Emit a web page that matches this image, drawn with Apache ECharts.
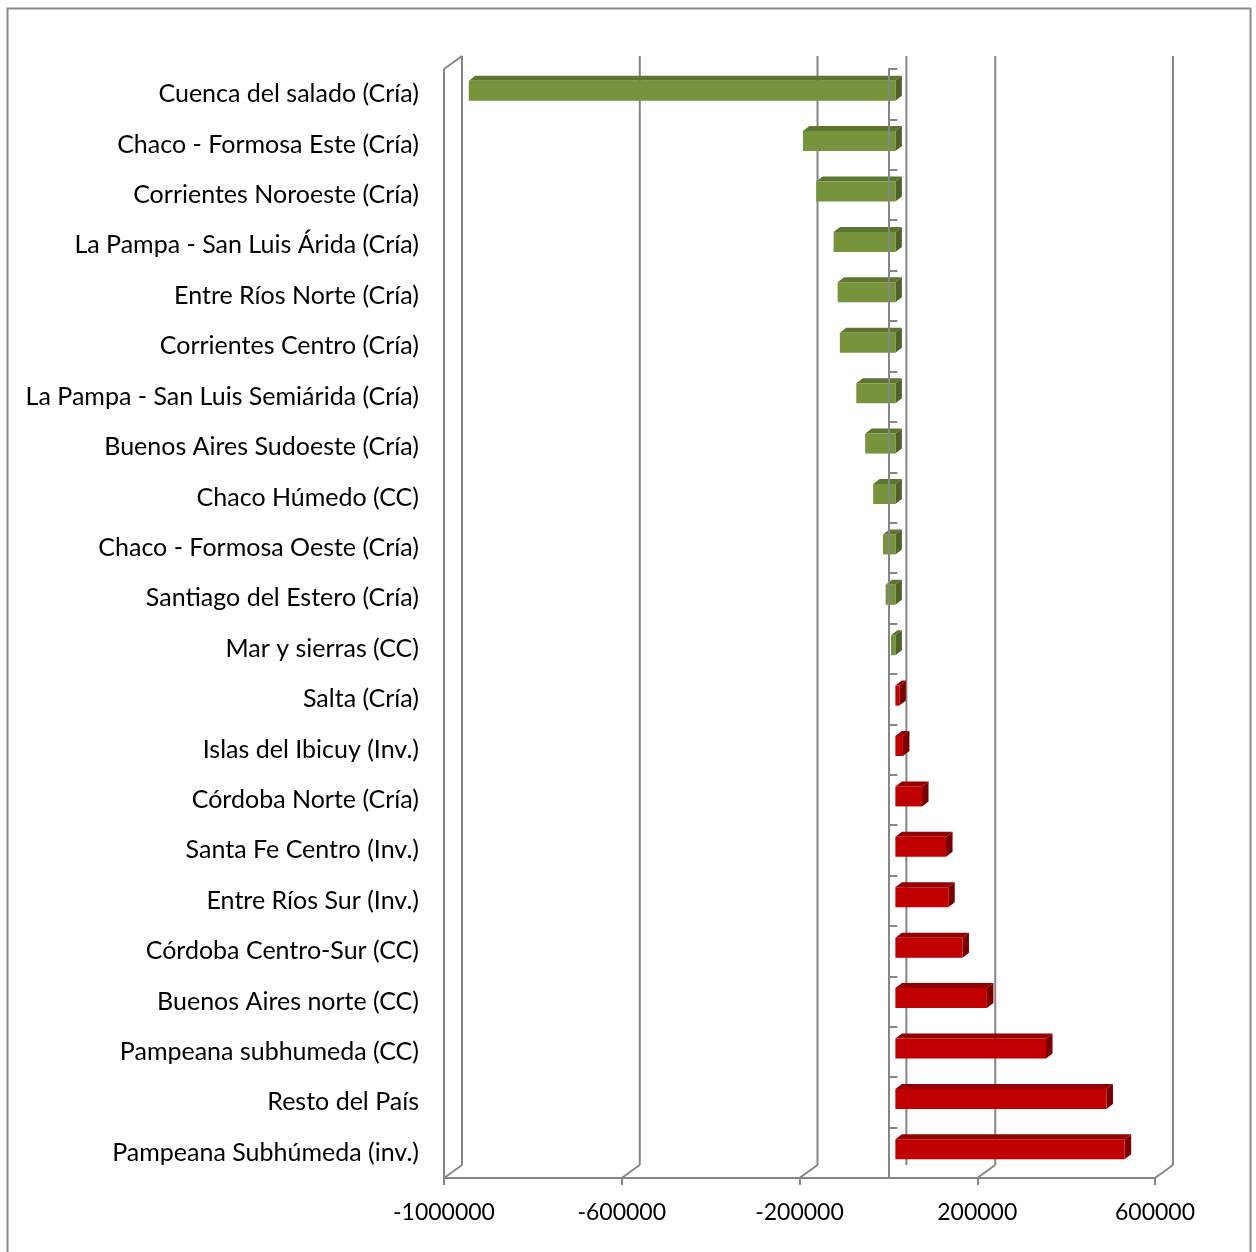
<!DOCTYPE html>
<html>
<head>
<meta charset="utf-8">
<script src="https://cdn.jsdelivr.net/npm/echarts@6/dist/echarts.min.js"></script>
<style>html,body{margin:0;padding:0;background:#fff}#c{width:1256px;height:1252px}</style>
</head>
<body>
<div id="c"></div>
<script>
const categories = [
  "Cuenca del salado (Cría)",
  "Chaco - Formosa Este (Cría)",
  "Corrientes Noroeste (Cría)",
  "La Pampa - San Luis Árida (Cría)",
  "Entre Ríos Norte (Cría)",
  "Corrientes Centro (Cría)",
  "La Pampa - San Luis Semiárida (Cría)",
  "Buenos Aires Sudoeste (Cría)",
  "Chaco Húmedo (CC)",
  "Chaco - Formosa Oeste (Cría)",
  "Santiago del Estero (Cría)",
  "Mar y sierras (CC)",
  "Salta (Cría)",
  "Islas del Ibicuy (Inv.)",
  "Córdoba Norte (Cría)",
  "Santa Fe Centro (Inv.)",
  "Entre Ríos Sur (Inv.)",
  "Córdoba Centro-Sur (CC)",
  "Buenos Aires norte (CC)",
  "Pampeana subhumeda (CC)",
  "Resto del País",
  "Pampeana Subhúmeda (inv.)"
];
const values = [
  -960000, -208000, -178000, -139000, -130000, -125000, -88000, -68000,
  -50000, -28000, -22000, -10000, 9000, 17000, 60000, 114000, 119000,
  151000, 206000, 339000, 475000, 516000
];
const xTicks = [-1000000, -600000, -200000, 200000, 600000];

const FONT = 'Lato';
const GRAY = '#868686';
const BACK_DX = 18, BACK_DY = -13;

const chart = echarts.init(document.getElementById('c'), null, {renderer: 'canvas'});

const barData = values.map((v, i) => [v, i]);

function renderBar(params, api) {
  const v = api.value(0), ci = api.value(1);
  const p0 = api.coord([0, ci]);
  const p1 = api.coord([v, ci]);
  const band = api.size([0, 1])[1];
  const h = band * 0.397;
  const dx = 7, dy = -3.5, ddx = 6.5, ddy = -5;
  const xl = Math.min(p0[0], p1[0]) + dx;
  const xr = Math.max(p0[0], p1[0]) + dx;
  const yt = p0[1] - h / 2 + dy;
  const yb = yt + h;
  const neg = v < 0;
  const front = neg ? '#77933C' : '#C00000';
  const top = neg ? '#5E7530' : '#940000';
  const side = neg ? '#4F6228' : '#7A0000';
  return {
    type: 'group',
    children: [
      {type: 'polygon', shape: {points: [[xl, yt], [xl + ddx, yt + ddy], [xr + ddx, yt + ddy], [xr, yt]]}, style: {fill: top}},
      {type: 'polygon', shape: {points: [[xr, yt], [xr + ddx, yt + ddy], [xr + ddx, yb + ddy], [xr, yb]]}, style: {fill: side}},
      {type: 'rect', shape: {x: xl, y: yt, width: xr - xl, height: h}, style: {fill: front}}
    ]
  };
}

function renderFrame(params, api) {
  const n = categories.length;
  const band = api.size([0, 1])[1];
  const topY = api.coord([0, 0])[1] - band / 2;
  const botY = api.coord([0, n - 1])[1] + band / 2;
  const ls = {stroke: GRAY, lineWidth: 2};
  const children = [];
  xTicks.forEach(t => {
    const x = api.coord([t, 0])[0];
    children.push({type: 'line', shape: {x1: x + BACK_DX, y1: topY + BACK_DY, x2: x + BACK_DX, y2: botY + BACK_DY}, style: ls});
    children.push({type: 'line', shape: {x1: x, y1: botY, x2: x + BACK_DX, y2: botY + BACK_DY}, style: ls});
  });
  const x0 = api.coord([0, 0])[0];
  children.push({type: 'line', shape: {x1: x0 + BACK_DX, y1: topY + BACK_DY, x2: x0 + BACK_DX, y2: botY + BACK_DY}, style: ls});
  const xm = api.coord([xTicks[0], 0])[0];
  children.push({type: 'line', shape: {x1: xm, y1: topY, x2: xm, y2: botY}, style: ls});
  children.push({type: 'line', shape: {x1: xm, y1: topY, x2: xm + BACK_DX, y2: topY + BACK_DY}, style: ls});
  return {type: 'group', children};
}

chart.setOption({
  animation: false,
  backgroundColor: '#ffffff',
  graphic: [{
    type: 'rect', z: -10, silent: true,
    shape: {x: 7.5, y: 8.5, width: 1243, height: 1260},
    style: {fill: 'none', stroke: '#8a8a8a', lineWidth: 2}
  }],
  grid: {left: 444, right: 101, top: 69, bottom: 74, containLabel: false},
  xAxis: {
    type: 'value', min: -1000000, max: 600000, interval: 400000,
    axisLine: {show: true, onZero: false, lineStyle: {color: GRAY, width: 2}},
    axisTick: {show: true, length: 7, lineStyle: {color: GRAY, width: 2}},
    splitLine: {show: false},
    axisLabel: {margin: 23, color: '#000', fontFamily: FONT, fontSize: 23, formatter: v => String(v)}
  },
  yAxis: [
    {
      type: 'category', data: categories, inverse: true,
      axisLine: {show: false, onZero: false}, axisTick: {show: false},
      splitLine: {show: false},
      axisLabel: {margin: 25, color: '#000', fontFamily: FONT, fontSize: 25, padding: [6, 0, 0, 0]}
    },
    {
      type: 'category', data: categories, inverse: true, z: 10,
      axisLine: {show: true, onZero: true, lineStyle: {color: GRAY, width: 2}},
      axisTick: {show: true, length: 9, lineStyle: {color: GRAY, width: 2}},
      axisLabel: {show: false}, splitLine: {show: false}
    }
  ],
  series: [
    {type: 'custom', name: 'frame', z: 1, silent: true, xAxisIndex: 0, yAxisIndex: 0, data: [[0, 0]], renderItem: renderFrame, clip: false},
    {type: 'custom', name: 'bars', z: 2, xAxisIndex: 0, yAxisIndex: 0, data: barData, encode: {x: 0, y: 1}, renderItem: renderBar, clip: false}
  ]
});
</script>
</body>
</html>
